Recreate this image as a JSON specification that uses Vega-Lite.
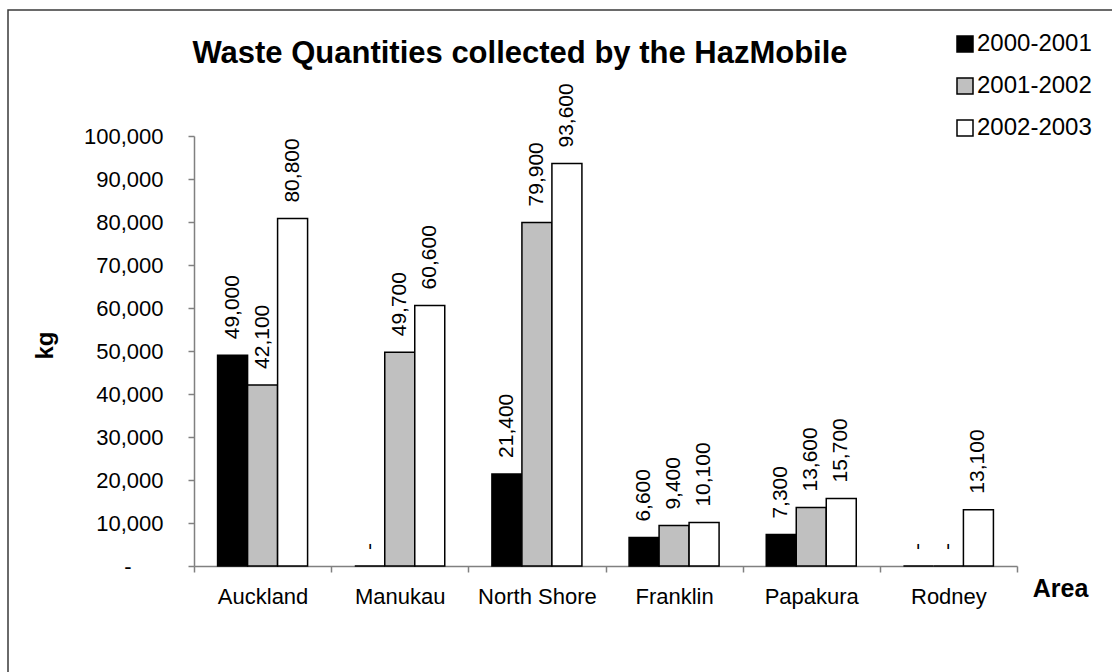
{
  "$schema": "https://vega.github.io/schema/vega-lite/v6.json",
  "autosize": "none",
  "padding": {"left": 8, "top": 10, "right": -6, "bottom": -6},
  "width": 1110,
  "height": 668,
  "background": "white",
  "config": {
    "view": {"stroke": "#3a3a3a", "strokeWidth": 1.5},
    "font": "Liberation Sans"
  },
  "title": {
    "text": "Waste Quantities collected by the HazMobile",
    "font": "Liberation Sans",
    "fontSize": 31,
    "fontWeight": "bold",
    "color": "black",
    "anchor": "middle",
    "frame": "group",
    "offset": -75,
    "baseline": "middle",
    "dx": -43
  },
  "data": {
    "values": [
      {"area": "Auckland", "period": "2000-2001", "kg": 49000, "label": "49,000"},
      {"area": "Auckland", "period": "2001-2002", "kg": 42100, "label": "42,100"},
      {"area": "Auckland", "period": "2002-2003", "kg": 80800, "label": "80,800"},
      {"area": "Manukau", "period": "2000-2001", "kg": 0, "label": "-"},
      {"area": "Manukau", "period": "2001-2002", "kg": 49700, "label": "49,700"},
      {"area": "Manukau", "period": "2002-2003", "kg": 60600, "label": "60,600"},
      {"area": "North Shore", "period": "2000-2001", "kg": 21400, "label": "21,400"},
      {"area": "North Shore", "period": "2001-2002", "kg": 79900, "label": "79,900"},
      {"area": "North Shore", "period": "2002-2003", "kg": 93600, "label": "93,600"},
      {"area": "Franklin", "period": "2000-2001", "kg": 6600, "label": "6,600"},
      {"area": "Franklin", "period": "2001-2002", "kg": 9400, "label": "9,400"},
      {"area": "Franklin", "period": "2002-2003", "kg": 10100, "label": "10,100"},
      {"area": "Papakura", "period": "2000-2001", "kg": 7300, "label": "7,300"},
      {"area": "Papakura", "period": "2001-2002", "kg": 13600, "label": "13,600"},
      {"area": "Papakura", "period": "2002-2003", "kg": 15700, "label": "15,700"},
      {"area": "Rodney", "period": "2000-2001", "kg": 0, "label": "-"},
      {"area": "Rodney", "period": "2001-2002", "kg": 0, "label": "-"},
      {"area": "Rodney", "period": "2002-2003", "kg": 13100, "label": "13,100"}
    ]
  },
  "encoding": {
    "x": {
      "field": "area",
      "type": "nominal",
      "sort": ["Auckland", "Manukau", "North Shore", "Franklin", "Papakura", "Rodney"],
      "scale": {"range": [186, 1009], "paddingInner": 0, "paddingOuter": 0},
      "axis": {
        "orient": "bottom",
        "offset": -112,
        "tickBand": "extent",
        "labelAngle": 0,
        "tickSize": 6,
        "tickColor": "#808080",
        "domainColor": "#808080",
        "domainWidth": 1.5,
        "tickWidth": 1.5,
        "labelFont": "Liberation Sans",
        "labelFontSize": 22,
        "labelColor": "black",
        "labelPadding": 14,
        "title": "Area",
        "titleFont": "Liberation Sans",
        "titleFontSize": 25,
        "titleFontWeight": "bold",
        "titleColor": "black",
        "titleX": 1052,
        "titleY": 22,
        "titleAlign": "center",
        "titleBaseline": "middle",
        "titleAnchor": null
      }
    },
    "xOffset": {
      "field": "period",
      "type": "nominal",
      "scale": {"paddingInner": 0, "paddingOuter": 0.786}
    },
    "y": {
      "field": "kg",
      "type": "quantitative",
      "scale": {"domain": [0, 100000], "range": [556, 126], "nice": false, "zero": true},
      "axis": {
        "orient": "left",
        "offset": -186,
        "grid": false,
        "values": [0, 10000, 20000, 30000, 40000, 50000, 60000, 70000, 80000, 90000, 100000],
        "labelExpr": "datum.value == 0 ? '-\u2800\u2800' : format(datum.value, ',')",
        "tickSize": 6,
        "tickColor": "#808080",
        "domainColor": "#808080",
        "domainWidth": 1.5,
        "tickWidth": 1.5,
        "labelFont": "Liberation Sans",
        "labelFontSize": 22,
        "labelColor": "black",
        "labelPadding": 25,
        "title": "kg",
        "titleFont": "Liberation Sans",
        "titleFontSize": 24,
        "titleFontWeight": "bold",
        "titleColor": "black",
        "titleX": -149,
        "titleY": 335,
        "titleAngle": 270,
        "titleAlign": "center",
        "titleBaseline": "middle",
        "titleAnchor": null
      }
    }
  },
  "layer": [
    {
      "mark": {"type": "bar", "stroke": "black", "strokeWidth": 1.5, "opacity": 1},
      "encoding": {
        "color": {
          "field": "period",
          "type": "nominal",
          "scale": {"domain": ["2000-2001", "2001-2002", "2002-2003"], "range": ["#000000", "#C0C0C0", "#FFFFFF"]},
          "legend": {
            "orient": "none",
            "legendX": 945,
            "legendY": 22,
            "title": null,
            "padding": 0,
            "symbolType": "square",
            "symbolSize": 256,
            "symbolStrokeColor": "black",
            "symbolStrokeWidth": 1.5,
            "symbolOpacity": 1,
            "labelFont": "Liberation Sans",
            "labelFontSize": 24,
            "labelColor": "black",
            "labelOffset": 0,
            "rowPadding": 18
          }
        }
      }
    },
    {
      "mark": {
        "type": "text",
        "angle": 270,
        "align": "left",
        "baseline": "middle",
        "dx": 16,
        "font": "Liberation Sans",
        "fontSize": 21,
        "color": "black"
      },
      "encoding": {
        "text": {"field": "label"}
      }
    }
  ]
}
